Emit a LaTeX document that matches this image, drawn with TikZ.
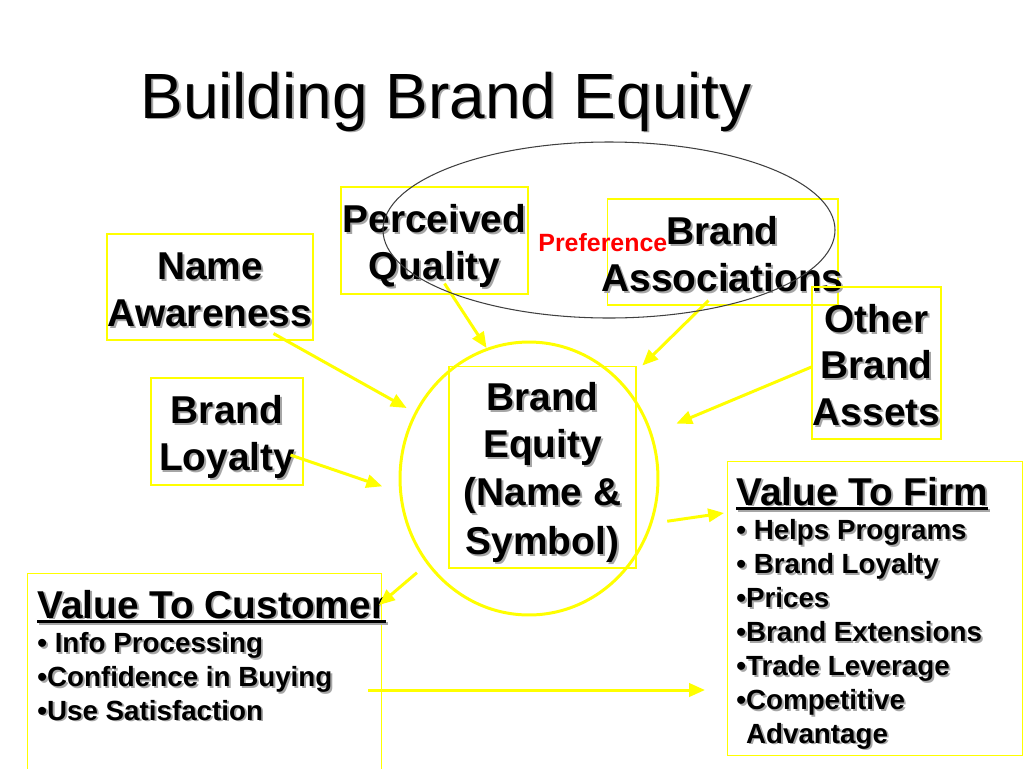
\documentclass[tikz,border=0pt]{standalone}
\usepackage{fontspec}
\setmainfont{Liberation Sans}
\usetikzlibrary{shapes.geometric,arrows.meta,calc,positioning}

\definecolor{slideyellow}{RGB}{255,255,0}
\definecolor{slidered}{RGB}{255,0,0}
% grey offset copy behind the text, as on the slide
\newcommand{\shadowed}[1]{\leavevmode\rlap{\smash{\hspace{1.1pt}\raisebox{-1.1pt}{\color{black!35}#1}}}#1}
\newcommand{\boxline}[1]{\makebox[0pt]{\shadowed{#1}}\rule[-0.18em]{0pt}{1.18em}}
\newcommand{\thickunder}[1]{\setbox0\hbox{#1}\rlap{\rule[-2.9pt]{\wd0}{1.7pt}}\box0}

\begin{document}
\begin{tikzpicture}[
    x=0.02cm, y=-0.02cm,
    tag/.style={draw=slideyellow, line width=0.6pt, inner sep=0pt, align=center,
      font={\fontsize{22.1}{26.6}\selectfont\bfseries}},
    hubring/.style={ellipse, draw=slideyellow, line width=1.7pt, inner sep=0pt},
    listbox/.style={draw=slideyellow, line width=0.6pt, inner sep=0pt, anchor=north west},
    listhead/.style={inner sep=0pt, anchor=base west,
      font={\fontsize{22.1}{26.6}\selectfont\bfseries}},
    listbody/.style={inner sep=0pt, anchor=base west, align=left,
      font={\fontsize{15.8}{19.3}\selectfont\bfseries}},
    feed/.style={draw=slideyellow, line width=1.7pt, -{Triangle[length=9pt,width=7.5pt]}}
]
  \useasboundingbox (0,0) rectangle (1024,768);

  \node[anchor=base west, inner sep=0pt, font={\fontsize{36.4}{40}\selectfont}] (title)
    at (140,118) {\shadowed{Building Brand Equity}};

  % Sources around the centre.
  \node[tag, minimum width=4.12cm, minimum height=2.12cm] (aware) at (210,287)
    {\boxline{Name}\\\boxline{Awareness}};
  \node[tag, minimum width=3.74cm, minimum height=2.14cm] (quality) at (434.5,240.5)
    {\boxline{Perceived}\\\boxline{Quality}};
  \node[tag, minimum width=4.62cm, minimum height=2.12cm] (assoc) at (722.5,252)
    {\boxline{Brand}\\\boxline{Associations}};
  \node[tag, minimum width=2.58cm, minimum height=3.04cm] (other) at (876.5,363)
    {\boxline{Other}\\\boxline{Brand}\\\boxline{Assets}};
  \node[tag, minimum width=3.04cm, minimum height=2.14cm] (loyal) at (227,431.5)
    {\boxline{Brand}\\\boxline{Loyalty}};

  % Centre: ring and its box.
  \node[hubring, minimum width=5.16cm, minimum height=5.46cm] (hub) at (529,478.5) {};
  \node[tag, minimum width=3.74cm, minimum height=4.04cm] (equity) at (542.5,467)
    {\boxline{Brand}\\\boxline{Equity}\\\boxline{(Name \&}\\\boxline{Symbol)}};

  \node[anchor=base west, inner sep=0pt, text=slidered,
    font={\fontsize{14.2}{17}\selectfont\bfseries}] (pref) at (538,251) {Preference};

  % The two outcomes (list nodes sit on the baseline of their last line).
  \node[listbox, minimum width=7.08cm, minimum height=4cm] (cust) at (27,573) {};
  \node[listhead] (custhead) at (37,618) {\shadowed{\thickunder{Value To Customer}}};
  \node[listbody] (custlist) at (37,720)
    {\shadowed{• Info Processing}\\\shadowed{•Confidence in Buying}\\\shadowed{•Use Satisfaction}};

  \node[listbox, minimum width=5.9cm, minimum height=5.88cm] (firm) at (727,461) {};
  \node[listhead] (firmhead) at (736,505) {\shadowed{\thickunder{Value To Firm}}};
  \node[listbody] (firmlist) at (736,743)
    {\shadowed{• Helps Programs}\\\shadowed{• Brand Loyalty}\\\shadowed{•Prices}\\
     \shadowed{•Brand Extensions}\\\shadowed{•Trade Leverage}\\\shadowed{•Competitive}\\
     \shadowed{\hspace{0.35em}Advantage}};

  \draw[feed, shorten >=0.18cm] ($(aware.south east)+(-40,-7)$) -- (hub.150);
  \draw[feed] ($(quality.south)+(10,-11)$) -- (hub.108);
  \draw[feed, shorten >=0.52cm] ($(assoc.south)+(-14,-5)$) -- (hub.45);
  \draw[feed, shorten >=0.52cm] ($(other.west)+(0,4)$) -- (hub.20);
  \draw[feed, shorten >=0.36cm] ($(loyal.east)+(-13,23.5)$) -- (hub.186);
  \draw[feed, shorten <=0.3cm] (hub.-20) -- ($(firm.north west)+(-3,52)$);
  \draw[feed, shorten <=0.26cm] (hub.220) -- ($(cust.north east)+(-3,32)$);
  \draw[feed] ($(cust.north east)+(-14,117)$) -- ($(firm.north west)+(-22,229)$);

  \draw[black!75, line width=0.6pt] (609,230) ellipse [x radius=226, y radius=88];
\end{tikzpicture}
\end{document}
